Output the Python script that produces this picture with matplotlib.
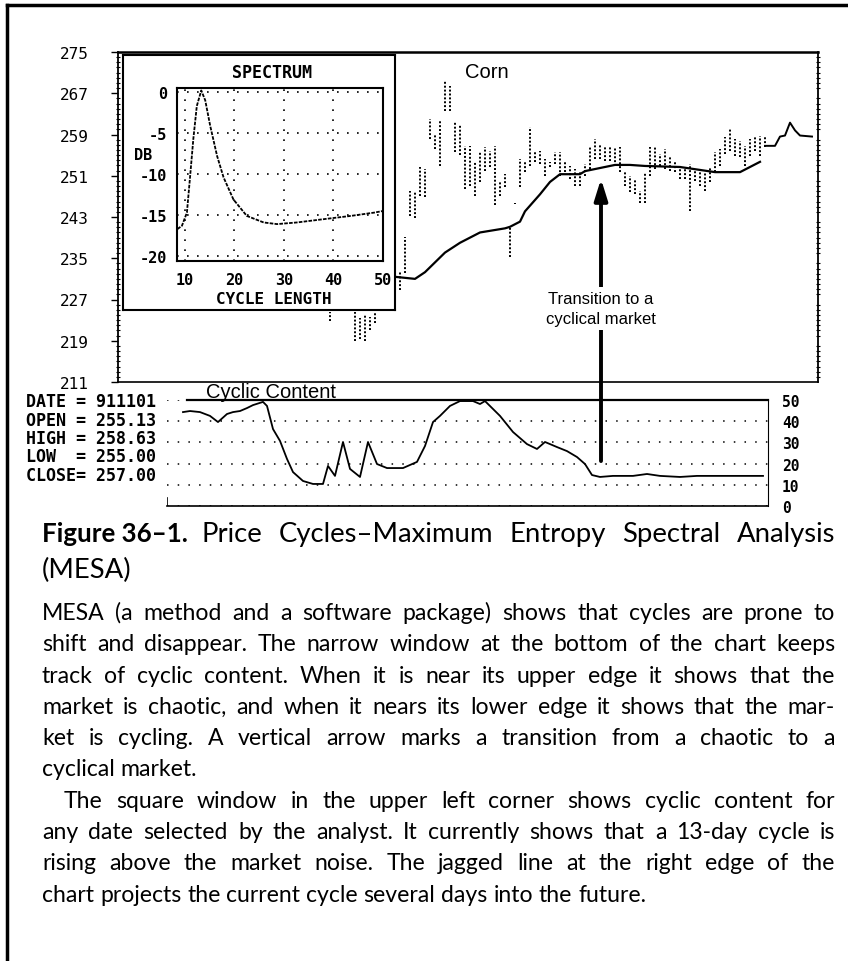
import numpy as np
import matplotlib
matplotlib.use("Agg")
import matplotlib.pyplot as plt
from matplotlib.patches import ConnectionPatch
from matplotlib.lines import Line2D
from matplotlib.font_manager import FontProperties

W, H = 848, 962
MONO = "DejaVu Sans Mono"
SANS = "Liberation Sans"
BOOK = "Lato"

# --- main price chart (corn), day index vs price
bar_day = [42, 47, 48, 49, 50, 51] + list(range(56, 130))
bar_high = [224.5, 224.5, 223.5, 224.1, 223.7, 224.3,
            232.3, 239.2, 248.0, 248.0, 252.7, 252.3, 262.1, 259.1, 261.7, 269.3,
            268.5, 261.5, 260.8, 256.8, 256.8, 253.9, 255.6, 256.6, 255.8, 256.8,
            249.8, 251.3, 240.9, 245.8, 254.3, 253.7, 260.5, 255.8, 255.8, 254.3,
            253.7, 255.6, 255.6, 253.7, 252.9, 252.3, 251.9, 253.3, 256.8, 258.2,
            257.2, 256.8, 256.6, 256.6, 256.6, 251.7, 250.9, 250.3, 248.0, 251.7,
            256.6, 256.8, 255.2, 256.2, 254.8, 253.7, 252.9, 252.3, 253.3, 251.9,
            251.7, 251.7, 252.7, 255.6, 256.2, 258.6, 260.1, 258.2, 257.8, 256.8,
            258.2, 258.6, 258.8, 258.8]
bar_low = [222.9, 219.0, 219.4, 219.0, 221.0, 222.4,
           228.8, 232.1, 243.1, 242.9, 247.0, 246.8, 258.2, 256.2, 252.9, 263.6,
           263.5, 255.6, 255.0, 248.4, 249.0, 247.0, 249.8, 251.9, 252.7, 245.4,
           247.0, 248.8, 235.3, 245.5, 248.8, 251.7, 252.9, 253.7, 253.3, 250.9,
           252.7, 253.3, 250.9, 251.7, 250.3, 249.0, 249.0, 250.9, 252.3, 254.3,
           254.3, 253.9, 253.9, 252.9, 251.7, 249.0, 247.8, 247.4, 245.8, 245.8,
           250.9, 252.3, 252.9, 252.3, 251.9, 251.7, 250.3, 250.3, 244.1, 249.9,
           249.0, 248.0, 249.8, 251.7, 252.9, 255.2, 255.8, 254.8, 254.6, 252.9,
           254.8, 255.8, 254.8, 256.6]

ma_day = [55, 59, 61, 65, 68, 72, 77, 78, 80, 81, 84, 86, 88, 92, 93, 99, 102, 105, 112, 119, 124, 128]
ma_val = [231.4, 231.0, 232.3, 236.1, 238.0, 240.0, 240.8, 241.1, 242.1, 244.1, 247.4, 249.8,
          251.3, 251.3, 251.9, 253.1, 253.1, 252.9, 252.7, 251.7, 251.7, 253.7]

proj_day = [129, 131, 132, 133, 134, 135, 136, 138.4]
proj_val = [256.8, 256.8, 258.6, 258.8, 261.3, 259.8, 258.8, 258.6]

price_ticks = [211, 219, 227, 235, 243, 251, 259, 267, 275]

# --- spectrum inset
spec_len = [8.5, 9.4, 10.4, 11.0, 11.7, 12.4, 13.3, 14.1, 15.1, 16.5, 17.8, 19.8,
            22.5, 25.9, 28.6, 32.6, 38.0, 43.5, 48.2, 50.0]
spec_db = [-16.7, -16.3, -14.7, -10.6, -5.7, -1.7, 0.2, -1.0, -4.1, -7.8, -10.4, -13.1,
           -15.1, -15.9, -16.1, -15.9, -15.5, -15.1, -14.7, -14.5]
spec_xticks = [10, 20, 30, 40, 50]
spec_yticks = [0, -5, -10, -15, -20]

# --- cyclic content strip
cyc_day = [12.6, 14, 16, 18, 19.6, 21.4, 22.6, 24, 25.4, 26.6, 28.6, 29.4, 30.6, 32, 33.4,
           34.6, 36.6, 38.6, 40.6, 41.6, 43, 44.6, 46, 48, 49.6, 51.4, 53.4, 56.6, 59.4,
           61, 62.6, 64, 66, 68, 70.6, 72, 73, 76, 78.6, 81.4, 83.4, 85, 87.4, 89.4, 91.4,
           93, 94.4, 96, 98.6, 102.6, 105.4, 108, 112, 115.4, 128.6]
cyc_val = [44.3, 44.8, 44.3, 42.5, 39.6, 43.4, 44.3, 44.8, 46.2, 47.6, 49.1, 47.2, 36.3, 30.7,
           22.2, 16.0, 11.8, 10.4, 10.4, 18.9, 14.2, 30.2, 17.5, 13.7, 30.2, 19.8, 17.9, 17.9,
           20.8, 28.3, 39.6, 42.5, 47.2, 49.5, 49.5, 48.1, 49.5, 42.5, 34.9, 29.2, 26.9, 30.2,
           27.8, 25.9, 23.1, 19.8, 14.6, 13.7, 14.2, 14.2, 15.1, 14.2, 13.7, 14.2, 14.2]
cyc_ticks = [0, 10, 20, 30, 40, 50]

info_names = ["DATE ", "OPEN ", "HIGH ", "LOW  ", "CLOSE"]
info_vals = ["911101", "255.13", "258.63", "255.00", "257.00"]

arrow_day = 96.2
arrow_from = 21.2   # cyclic strip value
arrow_to = 250.4    # price

caption_bold = "Figure 36\u20131."
caption_rest = "Price Cycles\u2013Maximum Entropy Spectral Analysis"
caption_line2 = "(MESA)"
para1 = ["MESA (a method and a software package) shows that cycles are prone to",
         "shift and disappear. The narrow window at the bottom of the chart keeps",
         "track of cyclic content. When it is near its upper edge it shows that the",
         "market is chaotic, and when it nears its lower edge it shows that the mar-",
         "ket is cycling. A vertical arrow marks a transition from a chaotic to a",
         "cyclical market."]
para2 = ["The square window in the upper left corner shows cyclic content for",
         "any date selected by the analyst. It currently shows that a 13-day cycle is",
         "rising above the market noise. The jagged line at the right edge of the",
         "chart projects the current cycle several days into the future."]


def box(x0, y0, x1, y1):
    return [x0 / W, 1 - y1 / H, (x1 - x0) / W, (y1 - y0) / H]


def ftext(x, y, s, **kw):
    return fig.text(x / W, 1 - y / H, s, **kw)


fig = plt.figure(figsize=(W / 100, H / 100), dpi=100)

# page frame
fig.add_artist(Line2D([7 / W, 1], [1 - 6 / H, 1 - 6 / H], color="black", lw=2.5))
fig.add_artist(Line2D([7 / W, 7 / W], [0, 1 - 6 / H], color="black", lw=2.5))

# main chart
ax = fig.add_axes(box(118, 53, 818, 383))
ax.vlines(bar_day, bar_low, bar_high, colors="black", lw=1.4, linestyles=[(0, (1, 1))])
ax.plot(ma_day, ma_val, color="black", lw=1.6)
ax.plot(proj_day, proj_val, color="black", lw=1.4)
ax.set_xlim(-0.4, 139.6)
ax.set_ylim(211, 275)
ax.set_xticks([])
ax.set_yticks(price_ticks)
ax.set_yticklabels([str(v) for v in price_ticks], fontfamily=MONO, fontsize=11.5)
ax.set_yticks(np.arange(211, 276, 1), minor=True)
ax.tick_params(axis="y", which="major", direction="out", length=5, width=1, pad=16)
ax.tick_params(axis="y", which="minor", direction="inout", length=3, width=0.8,
               left=True, right=True)
ax.spines["top"].set_linewidth(1.8)
for s in ["left", "right"]:
    ax.spines[s].set_linestyle((0, (1, 1)))
    ax.spines[s].set_linewidth(1.3)
ax.spines["bottom"].set_linestyle((0, (4, 1)))
ax.spines["bottom"].set_linewidth(1.2)
ftext(487, 72, "Corn", ha="center", va="center", fontsize=14.5, family=SANS)

# spectrum window
axo = fig.add_axes(box(123, 56, 395, 311))
axo.set_zorder(2)
axo.set_xticks([])
axo.set_yticks([])
for s in axo.spines.values():
    s.set_linewidth(1.5)

axs = fig.add_axes(box(177, 89, 383, 262))
axs.set_zorder(3)
axs.plot(spec_len, spec_db, color="black", lw=1.3, linestyle=(0, (2, 0.7)))
axs.set_xlim(8.4, 50)
axs.set_ylim(-20.6, 0.5)
axs.set_xticks(spec_xticks)
axs.set_xticklabels([str(v) for v in spec_xticks])
axs.set_yticks(spec_yticks)
axs.set_yticklabels([str(v) for v in spec_yticks])
axs.grid(True, color="black", linestyle=(0, (1, 5)), lw=1.2)
axs.tick_params(axis="x", length=0, pad=8, labelsize=11)
axs.tick_params(axis="y", length=0, pad=7, labelsize=11)
for lab in axs.get_xticklabels() + axs.get_yticklabels():
    lab.set_fontfamily(MONO)
    lab.set_fontweight("bold")
for s in axs.spines.values():
    s.set_linewidth(1.5)
ftext(272, 73, "SPECTRUM", ha="center", va="center", family=MONO, weight="bold", fontsize=12, zorder=5)
ftext(143, 155, "DB", ha="center", va="center", family=MONO, weight="bold", fontsize=11, zorder=5)
ftext(274, 300, "CYCLE LENGTH", ha="center", va="center", family=MONO, weight="bold", fontsize=11.5, zorder=5)

# cyclic content strip
axc = fig.add_axes(box(167, 401, 768, 507))
axc.set_facecolor("none")
axc.plot(cyc_day, cyc_val, color="black", lw=1.3)
axc.set_xlim(9.4, 129.6)
axc.set_ylim(0, 50)
axc.set_xticks([])
axc.set_yticks(cyc_ticks)
axc.set_yticklabels([str(v) for v in cyc_ticks], fontfamily=MONO, fontweight="bold", fontsize=10.5)
for lab in axc.get_yticklabels():
    lab.set_verticalalignment("bottom")
axc.yaxis.tick_right()
axc.tick_params(length=0, pad=10)
axc.grid(axis="y", color="black", linestyle=(0, (1, 6)), lw=1.1)
axc.spines["left"].set_visible(False)
axc.spines["top"].set_linewidth(1.6)
axc.spines["top"].set_bounds(cyc_day[0] + 0.8, 129.6)
axc.spines["right"].set_linestyle((0, (1, 1)))
axc.spines["bottom"].set_linewidth(1.2)
axc.axvline(axc.get_xlim()[0], ymax=0.08, color="black", lw=1.2)
ftext(271, 392, "Cyclic Content", ha="center", va="center", fontsize=14.5, family=SANS)

for i, (name, val) in enumerate(zip(info_names, info_vals)):
    ftext(26, 402 + i * 18.5, name + "= " + val, ha="left", va="center",
          family=MONO, weight="bold", fontsize=12)

# transition arrow
con = ConnectionPatch(xyA=(arrow_day, arrow_from), coordsA="data", axesA=axc,
                      xyB=(arrow_day, arrow_to), coordsB="data", axesB=ax,
                      arrowstyle="-|>,head_length=0.9,head_width=0.28",
                      mutation_scale=14, lw=2.8, color="black", zorder=4)
fig.add_artist(con)
fig.text(arrow_day, 225.2, "Transition to a\ncyclical market", transform=ax.transData,
         ha="center", va="center", fontsize=12, family=SANS, linespacing=1.4,
         bbox=dict(fc="white", ec="none", pad=3), zorder=5)

# caption and body text, justified by hand
renderer = fig.canvas.get_renderer()


def width(s, fp):
    return renderer.get_text_width_height_descent(s, fp, ismath=False)[0]


def put_line(line, x0, x1, y, fp, justify=True):
    words = line.split()
    ws = [width(w, fp) for w in words]
    if justify and len(words) > 1:
        gap = (x1 - x0 - sum(ws)) / (len(words) - 1)
    else:
        gap = width("a a", fp) - width("aa", fp)
    x = x0
    for w, wd in zip(words, ws):
        ftext(x, y, w, fontproperties=fp, ha="left", va="baseline")
        x += wd + gap


fp_cap = FontProperties(family=BOOK, size=16)
fp_cap.set_size(16 * 598 / width(caption_rest, fp_cap))
fp_cap_b = FontProperties(family=BOOK, weight="bold", size=16)
fp_cap_b.set_size(16 * 146 / width(caption_bold, fp_cap_b))
ftext(42, 542, caption_bold, fontproperties=fp_cap_b, ha="left", va="baseline")
put_line(caption_rest, 202, 835, 542, fp_cap)
put_line(caption_line2, 42, 835, 578, fp_cap, justify=False)

fp_body = FontProperties(family=BOOK, size=14)
widest = max(width(l, fp_body) for l in para1[:-1] + para2[1:-1])
fp_body.set_size(14 * 742 / widest)
y = 620
for k, line in enumerate(para1):
    put_line(line, 42, 835, y, fp_body, justify=k < len(para1) - 1)
    y += 31.3
for k, line in enumerate(para2):
    x0 = 64 if k == 0 else 42
    put_line(line, x0, 835, y, fp_body, justify=k < len(para2) - 1)
    y += 31.3

fig.savefig("out.png", dpi=100)
